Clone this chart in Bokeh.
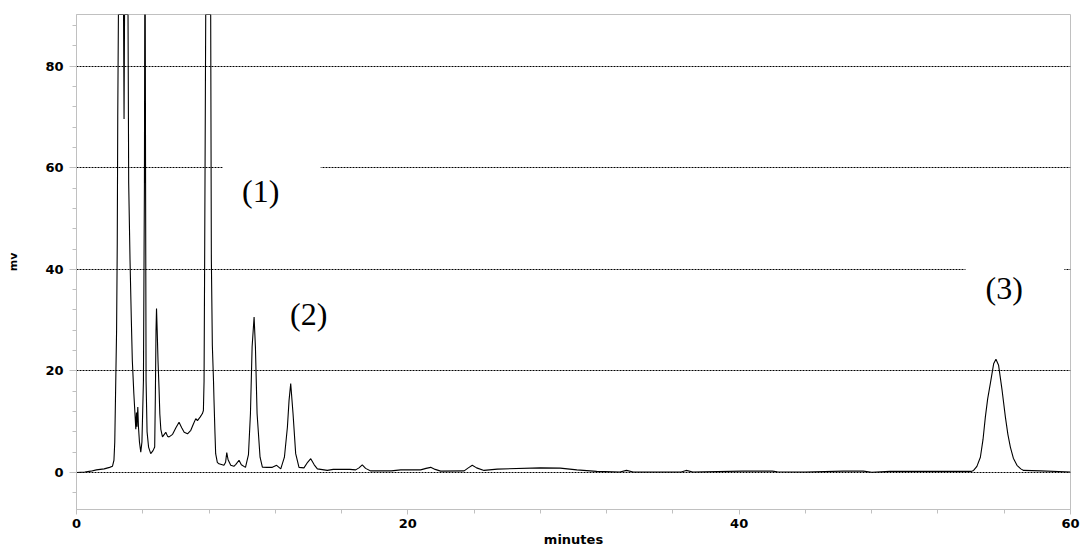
from bokeh.plotting import figure
from bokeh.models import Range1d, FixedTicker, ColumnDataSource
from bokeh.core.properties import value
from bokeh.embed import file_html
from bokeh.resources import INLINE

# Chromatogram trace (minutes, mV); off-scale peaks clipped at the top
time_min = [0.0, 0.5, 0.86, 1.2, 1.67, 2.0, 2.17, 2.26, 2.31, 2.35, 2.38, 2.42, 2.46, 2.49, 2.53,
            2.84, 2.87, 2.90, 3.11, 3.15, 3.23, 3.31, 3.37, 3.46, 3.53, 3.58, 3.62, 3.65, 3.70, 3.74,
            3.80, 3.88, 3.95, 4.04, 4.10, 4.12, 4.15, 4.17, 4.20, 4.26, 4.35, 4.48, 4.62, 4.72, 4.76,
            4.80, 4.83, 4.87, 4.92, 4.98, 5.03, 5.09, 5.19, 5.30, 5.39, 5.50, 5.59, 5.80, 6.00, 6.19,
            6.35, 6.50, 6.70, 6.90, 7.05, 7.20, 7.30, 7.46, 7.60, 7.66, 7.70, 7.74, 7.78, 7.80, 8.10,
            8.14, 8.20, 8.27, 8.30, 8.36, 8.40, 8.50, 8.60, 8.90, 9.00, 9.07, 9.15, 9.31, 9.50, 9.62,
            9.81, 9.95, 10.20, 10.38, 10.50, 10.60, 10.72, 10.80, 10.90, 11.08, 11.22, 11.50, 11.82,
            12.08, 12.33, 12.55, 12.73, 12.83, 12.93, 13.07, 13.23, 13.43, 13.73, 13.95, 14.14, 14.35,
            14.54, 15.14, 15.5, 16.5, 16.85, 17.05, 17.25, 17.45, 17.76, 19.0, 19.57, 20.77, 21.1,
            21.38, 21.65, 21.98, 23.4, 23.65, 23.89, 24.15, 24.6, 25.4, 28.0, 29.2, 30.2, 31.4, 32.8,
            33.2, 33.6, 36.5, 36.8, 37.2, 40.2, 42.0, 42.3, 44.0, 46.3, 47.5, 48.0, 49.1, 50.5, 51.0,
            54.0, 54.15, 54.35, 54.56, 54.72, 54.86, 55.0, 55.16, 55.36, 55.50, 55.66, 55.87, 56.07,
            56.22, 56.37, 56.55, 56.77, 57.0, 57.17, 58.2, 60.0]
signal_mv = [0.0, 0.1, 0.25, 0.5, 0.7, 1.0, 1.2, 2.4, 6, 14, 20, 28, 45, 70, 90.2,
             90.2, 69.6, 90.2, 90.2, 57, 42, 30, 22, 15.6, 11.5, 8.5, 11.8, 9.0, 12.9, 9.0,
             6.0, 4.0, 6.0, 18, 57, 90.2, 90.2, 57, 18, 8, 5, 3.7, 4.3, 5.0, 15,
             28, 32.3, 28, 22, 16.8, 11.5, 8.5, 7.0, 7.5, 7.9, 7.1, 7.0, 7.5, 8.8, 9.9,
             8.8, 7.9, 7.6, 8.3, 9.5, 10.6, 10.2, 10.9, 11.6, 12.2, 18, 45, 75, 90.2, 90.2,
             42, 25, 18, 14.2, 7.6, 3.7, 2.0, 1.7, 1.4, 2.0, 3.9, 2.5, 1.4, 1.2, 1.6,
             2.4, 1.5, 1.0, 3.5, 11.6, 24.7, 30.6, 24.7, 11.6, 3.0, 1.05, 1.0, 1.0,
             1.4, 0.7, 3.0, 8.9, 14.2, 17.5, 11.6, 3.7, 1.0, 0.9, 2.0, 2.7, 1.5,
             0.7, 0.4, 0.6, 0.6, 0.5, 0.9, 1.5, 0.8, 0.3, 0.3, 0.5, 0.5, 0.8,
             1.0, 0.6, 0.26, 0.3, 0.9, 1.4, 0.9, 0.4, 0.65, 0.9, 0.85, 0.5, 0.2, 0.1,
             0.4, 0.1, 0.1, 0.4, 0.1, 0.25, 0.25, 0.15, 0.1, 0.25, 0.25, 0.05, 0.2, 0.2, 0.2,
             0.2, 0.4, 1.2, 3.0, 6.5, 10.9, 14.5, 17.5, 21.4, 22.3, 21.1, 16.2, 10.9,
             7.5, 5.0, 2.8, 1.4, 0.7, 0.4, 0.3, 0.1]

# Peak annotations
peak_labels = ["(1)", "(2)", "(3)"]
peak_label_x = [11.12, 14.02, 56.0]
peak_label_y = [55.4, 31.2, 36.4]
# white backgrounds of the annotation text boxes (they hide parts of the grid lines)
box_left = [8.83, 53.66]
box_right = [14.74, 59.63]
box_bottom = [50.0, 30.0]
box_top = [64.0, 44.0]

x_major = [0, 20, 40, 60]
x_minor = list(range(0, 61, 4))
y_major = [0, 20, 40, 60, 80]
y_minor = list(range(-4, 90, 4))

GRAY = "#c0c0c0"

p = figure(frame_width=994, frame_height=495,
           x_range=Range1d(0, 60), y_range=Range1d(-7.3, 90.2),
           output_backend="svg", toolbar_location=None,
           min_border_left=76, min_border_right=12, min_border_top=14, min_border_bottom=39,
           background_fill_color="white", border_fill_color="white")
p.outline_line_color = GRAY
p.outline_line_width = 1

p.xgrid.grid_line_color = None
p.ygrid.grid_line_color = "black"
p.ygrid.grid_line_dash = "2 1"
p.ygrid.grid_line_width = 1

p.xaxis.ticker = FixedTicker(ticks=x_major, minor_ticks=x_minor)
p.yaxis.ticker = FixedTicker(ticks=y_major, minor_ticks=y_minor)

for ax in (p.xaxis[0], p.yaxis[0]):
    ax.axis_line_color = GRAY
    ax.major_tick_line_color = GRAY
    ax.minor_tick_line_color = GRAY
    ax.major_tick_in = 0
    ax.minor_tick_in = 0
    ax.minor_tick_out = 4
    ax.major_label_text_font = "DejaVu Sans"
    ax.major_label_text_font_style = "bold"
    ax.major_label_text_font_size = "13px"
    ax.major_label_text_color = "black"
    ax.axis_label_text_font = "DejaVu Sans"
    ax.axis_label_text_font_style = "bold"
    ax.axis_label_text_color = "black"

p.xaxis.axis_label_text_font_size = "13px"
p.yaxis.axis_label_text_font_size = "11px"
p.xaxis.major_tick_out = 5
p.yaxis.major_tick_out = 7
p.xaxis.major_label_standoff = 4
p.yaxis.major_label_standoff = 6
p.xaxis.axis_label = "minutes"
p.yaxis.axis_label = "mv"
p.xaxis.axis_label_standoff = 1
p.yaxis.axis_label_standoff = 22

p.quad(left=box_left, right=box_right, bottom=box_bottom, top=box_top,
       fill_color="white", line_color=None)

src = ColumnDataSource(dict(t=time_min, mv=signal_mv))
p.line("t", "mv", source=src, line_color="black", line_width=1.1)

p.text(x=peak_label_x, y=peak_label_y, text=peak_labels,
       text_font=value("Liberation Serif"), text_font_size="32px",
       text_align="center", text_baseline="middle", text_color="black")

open("out.html", "w").write(file_html(p, INLINE))
